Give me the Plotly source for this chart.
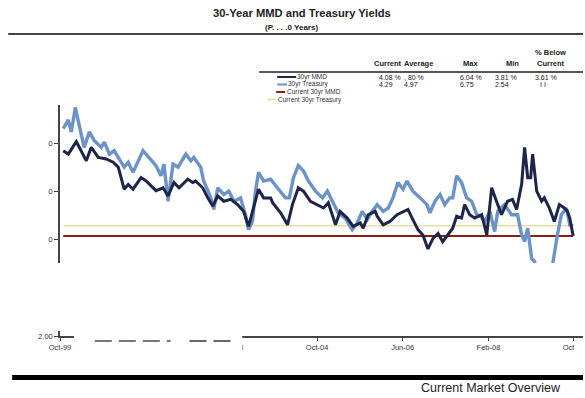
import plotly.graph_objects as go

# ---- data -------------------------------------------------------------
mmd_dates = [
    "1999-10-24", "1999-11-29", "2000-01-25", "2000-04-05", "2000-05-10", "2000-06-29",
    "2000-08-25", "2000-10-13", "2000-11-18", "2000-12-30", "2001-01-28", "2001-03-03",
    "2001-04-29", "2001-06-04", "2001-08-13", "2001-10-02", "2001-11-07", "2001-12-19",
    "2002-01-24", "2002-03-27", "2002-05-01", "2002-05-22", "2002-07-11", "2002-08-16",
    "2002-09-21", "2002-10-26", "2002-12-08", "2003-01-27", "2003-03-16", "2003-04-27",
    "2003-06-02", "2003-07-07", "2003-08-12", "2003-09-17", "2003-11-06", "2003-11-20",
    "2004-01-16", "2004-03-05", "2004-04-09", "2004-05-21", "2004-06-26", "2004-08-15",
    "2004-10-04", "2004-11-16", "2004-12-20", "2005-02-09", "2005-03-14", "2005-05-03",
    "2005-06-15", "2005-08-04", "2005-08-25", "2005-09-29", "2005-11-18", "2005-12-02",
    "2006-01-14", "2006-03-03", "2006-04-22", "2006-06-04", "2006-07-09", "2006-08-13",
    "2006-09-18", "2006-10-23", "2006-11-28", "2007-01-03", "2007-02-08", "2007-03-13",
    "2007-04-18", "2007-05-23", "2007-06-20", "2007-07-25", "2007-08-16", "2007-09-21",
    "2007-10-26", "2007-12-15", "2008-01-20", "2008-02-24", "2008-03-29", "2008-05-04",
    "2008-06-16", "2008-07-21", "2008-08-19", "2008-09-24", "2008-10-15", "2008-11-06",
    "2008-11-27", "2008-12-11", "2009-01-09", "2009-02-13", "2009-03-04", "2009-04-09",
    "2009-05-14", "2009-06-19", "2009-07-24", "2009-08-15", "2009-09-01", "2009-09-25",
]
mmd_values = [
    5.85, 5.78, 6.04, 5.64, 5.92, 5.71,
    5.68, 5.61, 5.51, 5.05, 5.15, 5.05,
    5.29, 5.22, 5.02, 5.08, 4.91, 5.19,
    5.08, 5.26, 5.19, 5.22, 5.08, 4.87,
    4.70, 4.91, 4.80, 4.84, 4.73, 4.59,
    4.28, 4.66, 5.05, 4.87, 4.87, 4.77,
    4.56, 4.31, 4.73, 5.08, 5.01, 4.80,
    4.73, 4.66, 4.77, 4.31, 4.59, 4.45,
    4.28, 4.35, 4.24, 4.52, 4.59, 4.49,
    4.31, 4.38, 4.52, 4.59, 4.63, 4.42,
    4.21, 4.10, 3.81, 4.03, 4.13, 3.96,
    4.10, 4.24, 4.49, 4.45, 4.73, 4.52,
    4.45, 4.52, 4.10, 5.08, 4.80, 4.52,
    4.80, 4.84, 4.63, 5.15, 5.92, 5.29,
    5.29, 5.78, 5.01, 4.80, 4.87, 4.66,
    4.38, 4.73, 4.66, 4.59, 4.45, 4.08,
]

tsy_dates = [
    "1999-10-24", "1999-11-29", "1999-12-20", "2000-01-18", "2000-02-09", "2000-03-21",
    "2000-04-26", "2000-06-01", "2000-07-20", "2000-08-11", "2000-09-16", "2000-10-20",
    "2000-11-18", "2000-12-30", "2001-01-28", "2001-03-03", "2001-05-13", "2001-06-25",
    "2001-08-13", "2001-09-18", "2001-10-09", "2001-11-07", "2001-12-12", "2002-01-17",
    "2002-03-13", "2002-04-18", "2002-05-09", "2002-06-27", "2002-07-18", "2002-09-07",
    "2002-09-28", "2002-10-26", "2002-12-08", "2003-01-13", "2003-02-18", "2003-04-06",
    "2003-05-11", "2003-06-02", "2003-06-30", "2003-07-21", "2003-08-12", "2003-09-17",
    "2003-11-06", "2004-01-01", "2004-02-20", "2004-03-18", "2004-04-16", "2004-05-21",
    "2004-06-26", "2004-08-01", "2004-09-20", "2004-11-09", "2004-12-13", "2005-01-18",
    "2005-02-28", "2005-04-19", "2005-06-08", "2005-07-13", "2005-08-18", "2005-09-23",
    "2005-10-27", "2005-12-02", "2006-01-14", "2006-02-19", "2006-03-24", "2006-04-29",
    "2006-06-04", "2006-07-02", "2006-08-13", "2006-10-03", "2006-11-21", "2006-12-12",
    "2007-01-17", "2007-02-22", "2007-03-27", "2007-05-01", "2007-05-23", "2007-06-20",
    "2007-07-25", "2007-08-30", "2007-10-05", "2007-11-10", "2007-12-01", "2008-01-06",
    "2008-02-11", "2008-03-16", "2008-04-07", "2008-05-25", "2008-07-14", "2008-08-26",
    "2008-09-24", "2008-10-15", "2008-11-06", "2008-12-04", "2008-12-25", "2009-01-16",
    "2009-02-13", "2009-03-04", "2009-04-02", "2009-04-30", "2009-05-21", "2009-06-05",
    "2009-07-03", "2009-08-08", "2009-09-01", "2009-09-25",
]
tsy_values = [
    6.31, 6.49, 6.24, 6.75, 6.45, 5.92,
    6.24, 6.06, 5.92, 6.03, 5.78, 5.85,
    5.71, 5.51, 5.61, 5.40, 5.85, 5.71,
    5.54, 5.33, 5.57, 4.80, 5.57, 5.51,
    5.78, 5.64, 5.71, 5.51, 5.22, 4.87,
    4.63, 5.08, 4.94, 5.01, 4.80, 4.87,
    4.52, 4.21, 4.39, 5.01, 5.40, 5.22,
    5.26, 5.05, 4.87, 4.87, 5.29, 5.54,
    5.43, 5.22, 5.01, 4.87, 5.01, 4.80,
    4.56, 4.45, 4.21, 4.35, 4.59, 4.42,
    4.59, 4.73, 4.59, 4.66, 4.87, 5.19,
    5.05, 5.22, 5.01, 4.87, 4.73, 4.56,
    4.80, 4.94, 4.73, 4.87, 4.87, 5.33,
    5.19, 4.87, 4.80, 4.52, 4.50, 4.38,
    4.59, 4.17, 4.59, 4.73, 4.52, 4.52,
    4.10, 3.96, 4.24, 3.61, 3.55, 3.20,
    2.90, 2.54, 2.75, 3.45, 3.90, 4.10,
    4.52, 4.66, 4.31, 4.29,
]

current_mmd = 4.08
current_tsy = 4.29

stat_headers = ["Current", "Average", "Max", "Min", "Current"]
mmd_stats = ["4.08 %", ", 80 %", "6.04 %", "3.81 %", "3.61 %"]
tsy_stats = ["4.29", "4.97", "6.75", "2.54", "I I"]

tick_dates = ["1999-10-01", "2001-06-01", "2003-02-01", "2004-10-01",
              "2006-06-01", "2008-02-01", "2009-10-01"]
tick_labels = ["Oct-99", "Jun-01", "Feb-03", "Oct-04", "Jun-06", "Feb-08", "Oct-09"]
y_ticks = [2, 3, 4, 5, 6]

# ---- colours / geometry ------------------------------------------------
NAVY = "#1d2548"
LIGHT = "#6b93c8"
RED = "#8c1c16"
YELLOW = "#e6e1a2"
FONT = "Arial, Liberation Sans, sans-serif"

W, H = 585, 398
L, R, T, B = 60, 0, 105, 62
PW, PH = W - L - R, H - T - B


def px(x):
    return (x - L) / PW


def py(y):
    return (H - B - y) / PH


fig = go.Figure()

# current-level reference lines
fig.add_trace(go.Scatter(x=[mmd_dates[0], mmd_dates[-1]], y=[current_tsy, current_tsy],
                         mode="lines", line=dict(color=YELLOW, width=1.6), hoverinfo="skip"))
fig.add_trace(go.Scatter(x=[mmd_dates[0], mmd_dates[-1]], y=[current_mmd, current_mmd],
                         mode="lines", line=dict(color=RED, width=2), hoverinfo="skip"))

# yield series
fig.add_trace(go.Scatter(x=tsy_dates, y=tsy_values, mode="lines", name="30yr Treasury",
                         line=dict(color=LIGHT, width=3.4)))
fig.add_trace(go.Scatter(x=mmd_dates, y=mmd_values, mode="lines", name="30yr MMD",
                         line=dict(color=NAVY, width=3)))

shapes = []


def rect(x0, y0, x1, y1, color="white"):
    shapes.append(dict(type="rect", xref="paper", yref="paper", layer="above",
                       x0=px(x0), x1=px(x1), y0=py(y1), y1=py(y0),
                       fillcolor=color, line=dict(width=0)))


def hline(x0, x1, y, color, width, dash="solid"):
    shapes.append(dict(type="line", xref="paper", yref="paper", layer="above",
                       x0=px(x0), x1=px(x1), y0=py(y), y1=py(y),
                       line=dict(color=color, width=width, dash=dash)))


# faded areas of the printed page
rect(0, 100, 48.5, 262)
rect(0, 263, 585, 331)
rect(74, 333, 243, 339)
rect(80, 339, 243, 362)
rect(576, 340, 600, 362)
hline(95, 171, 341, "#777777", 2, "17px,7px")
hline(190, 233, 341, "#666666", 2, "17px,7px")

# page rules
hline(8, 585, 34, "#444444", 2)
hline(260, 585, 72, "#555555", 2)
rect(12, 375, 585, 380, "#000000")

# legend swatches
hline(278, 297, 77, NAVY, 2)
hline(278, 288, 84.5, LIGHT, 2)
hline(277, 286, 92, RED, 2)
hline(268, 278, 99.5, YELLOW, 1.6)

ann = []


def text(x, y, s, size, anchor="left", bold=False, color="#222222"):
    ann.append(dict(xref="paper", yref="paper", x=px(x), y=py(y),
                    text=f"<b>{s}</b>" if bold else s, showarrow=False,
                    xanchor=anchor, yanchor="middle",
                    font=dict(family=FONT, size=size, color=color)))


text(303, 13, "30-Year MMD and Treasury Yields", 11.2, "center", True)
text(292, 27, "(P. . . .0 Years)", 8, "center", True)

text(552, 52, "% Below", 7.5, "center", True)
for cx, h in zip([389, 420, 472, 514, 553], stat_headers):
    text(cx, 64, h, 7.5, "center", True)
for lx, v in zip([378, 403, 460, 495, 535], mmd_stats):
    text(lx, 77.5, v, 7)
for lx, v in zip([378, 403, 460, 495, 540], tsy_stats):
    text(lx, 84.5, v, 7)

text(296, 77, "30yr MMD", 6.5, color="#333333")
text(287, 84.5, "30yr Treasury", 6.5, color="#333333")
text(286, 92, "Current 30yr MMD", 6.5, color="#333333")
text(277, 99.5, "Current 30yr Treasury", 6.5, color="#333333")

text(420, 388, "Current Market Overview", 12.5, color="#222222")

fig.update_layout(
    width=W, height=H,
    margin=dict(l=L, r=R, t=T, b=B),
    paper_bgcolor="white", plot_bgcolor="white",
    showlegend=False,
    shapes=shapes, annotations=ann,
    font=dict(family=FONT, color="#333333"),
)
fig.update_xaxes(
    type="date", range=["1999-10-01", "2009-12-04"],
    tickvals=tick_dates, ticktext=tick_labels,
    ticks="outside", ticklen=3, tickcolor="#444444",
    showline=True, linecolor="#444444", linewidth=1.5,
    showgrid=False, zeroline=False, ticklabeloverflow="allow",
    tickfont=dict(size=7.5, color="#333333"),
)
fig.update_yaxes(
    range=[2.0, 6.8], tickvals=y_ticks, tickformat=".2f",
    ticks="outside", ticklen=4, tickcolor="#444444",
    showline=True, linecolor="#444444", linewidth=1.5,
    showgrid=False, zeroline=False,
    tickfont=dict(size=7.5, color="#333333"),
)

fig.write_html("out.html")
